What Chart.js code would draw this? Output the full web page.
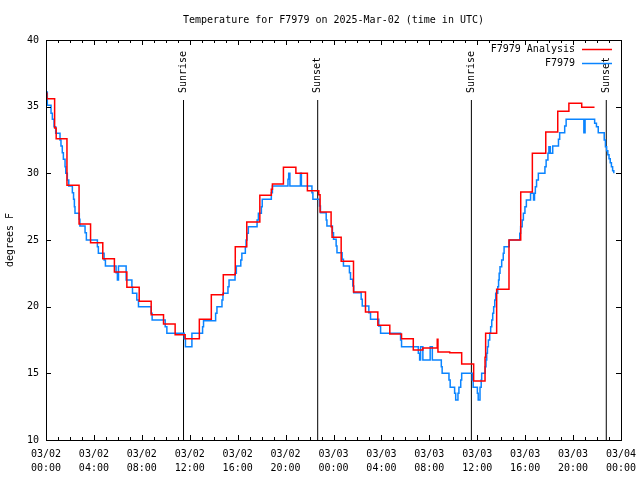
<!DOCTYPE html>
<html>
<head>
<meta charset="utf-8">
<script src="https://cdn.jsdelivr.net/npm/chart.js@4"></script>
<style>html,body{margin:0;padding:0;background:#fff;}canvas{display:block;}</style>
</head>
<body>
<canvas id="c" width="640" height="480"></canvas>
<script>
// ---- data (hours since 03/02 00:00 UTC, degrees F) ----
const xTickLabels = ['03/02 00:00','03/02 04:00','03/02 08:00','03/02 12:00','03/02 16:00','03/02 20:00',
  '03/03 00:00','03/03 04:00','03/03 08:00','03/03 12:00','03/03 16:00','03/03 20:00','03/04 00:00'];
const yTickValues = [10, 15, 20, 25, 30, 35, 40];

const analysisHours = [0.00,0.08,0.72,0.85,1.75,2.76,3.72,4.74,5.71,6.75,7.78,8.78,9.81,10.78,11.62,12.80,13.80,14.80,15.80,
  16.76,17.85,18.81,18.90,19.82,20.86,21.82,22.77,22.88,23.80,23.88,24.64,25.67,26.67,27.70,28.70,29.68,30.66,31.46,
  32.66,32.72,33.70,34.70,35.70,36.65,36.70,37.62,38.65,39.63,40.60,41.72,42.72,43.65,44.72,45.79];
const analysisTemps = [36.0,35.6,33.4,32.6,29.1,26.2,24.8,23.6,22.6,21.45,20.4,19.4,18.7,17.9,17.6,19.05,20.9,22.4,24.5,
  26.35,28.35,28.8,29.2,30.45,30.0,28.7,28.4,27.1,26.0,25.2,23.4,21.1,19.6,18.6,17.95,17.6,16.75,16.9,
  17.55,16.6,16.55,15.7,14.43,16.2,18.0,21.3,25.0,28.6,31.5,33.1,34.65,35.25,34.95,34.95];

const obsHours = [0.00,0.11,0.42,0.53,0.67,0.81,1.17,1.25,1.36,1.45,1.59,1.65,1.78,1.90,2.20,2.30,2.37,2.42,2.78,2.83,
  3.26,3.37,4.29,4.37,4.85,4.96,5.85,5.96,6.05,6.69,7.17,7.22,7.58,7.72,8.78,8.86,9.95,10.09,11.54,11.64,
  12.18,13.07,13.15,14.16,14.27,14.69,14.77,15.19,15.28,15.78,15.89,16.26,16.35,16.64,16.70,16.78,16.89,17.62,17.73,17.98,
  18.05,18.81,18.90,20.20,20.26,20.36,21.24,21.32,22.20,22.28,22.83,22.91,23.39,23.45,23.91,24.00,24.22,24.29,24.72,24.83,
  25.33,25.42,25.61,25.69,26.31,26.40,26.95,27.09,27.78,27.93,29.60,29.68,31.08,31.19,31.27,31.46,32.07,32.25,33.00,33.07,
  33.64,33.74,34.11,34.20,34.39,34.47,34.62,34.70,35.59,35.66,36.01,36.08,36.23,36.33,36.37,36.66,36.73,36.79,36.85,36.93,
  37.04,37.12,37.21,37.29,37.37,37.46,37.54,37.71,37.78,37.83,37.90,38.04,38.17,38.24,38.67,39.55,39.62,39.75,39.85,39.98,
  40.10,40.45,40.70,40.78,40.85,40.95,41.10,41.65,41.75,41.90,41.98,42.10,42.30,42.78,42.88,43.30,43.42,44.90,45.00,45.80,
  45.95,46.10,46.60,46.70,46.80,46.90,47.00,47.10,47.20,47.30,47.40];
const obsTemps = [36.1,35.1,34.5,34.05,33.5,33.0,32.5,32.05,31.55,31.05,30.5,30.0,29.5,29.05,28.55,28.05,27.5,27.0,26.55,26.05,
  25.55,25.0,24.5,24.0,23.5,23.05,22.55,22.0,23.05,22.0,21.45,21.0,20.5,20.0,19.5,19.0,18.5,18.0,17.6,17.0,
  18.0,18.5,18.95,19.5,20.0,20.5,21.0,21.5,22.0,22.5,23.05,23.5,24.0,24.5,25.0,25.5,26.0,26.5,27.0,27.5,
  28.05,28.55,29.05,29.55,30.0,29.05,30.0,29.05,28.55,28.05,27.55,27.05,26.5,26.05,25.55,25.05,24.55,24.05,23.55,23.05,
  22.55,22.05,21.55,21.05,20.55,20.05,19.55,19.05,18.55,18.0,17.5,17.0,16.5,16.0,17.0,16.0,17.0,16.0,15.5,15.0,
  14.5,13.95,13.5,13.0,13.5,13.95,14.5,15.0,14.5,13.95,13.5,13.0,13.95,14.5,15.0,15.5,16.0,16.5,17.0,17.5,
  18.0,18.5,19.0,19.5,20.0,20.5,21.0,21.5,22.0,22.5,23.0,23.5,24.0,24.5,25.0,25.5,26.0,26.5,27.0,27.5,
  28.0,28.5,28.0,28.5,29.0,29.5,30.0,30.5,31.0,31.5,32.0,31.5,32.05,32.55,33.05,33.55,34.05,33.05,34.05,33.75,
  33.5,33.05,32.5,32.0,31.7,31.4,31.1,30.8,30.5,30.2,30.0];

const sunHours = [11.48, 22.68, 35.51, 46.77];
const sunLabels = ['Sunrise', 'Sunset', 'Sunrise', 'Sunset'];
const sunLineRange = [10, 35.5];

const seriesNames = ['F7979 Analysis', 'F7979'];
const seriesColors = ['#ff0000', '#0a84ff'];
const titleText = 'Temperature for F7979 on 2025-Mar-02 (time in UTC)';
const yAxisTitle = 'degrees F';

// ---- build ----
const FONT = "'DejaVu Sans Mono', monospace";
const toPts = (xs, ys) => xs.map((x, i) => ({x: x, y: ys[i]}));

const datasets = [
  {label: seriesNames[0], data: toPts(analysisHours, analysisTemps), borderColor: seriesColors[0],
   borderWidth: 1.5, stepped: true, pointRadius: 0, fill: false},
  {label: seriesNames[1], data: toPts(obsHours, obsTemps), borderColor: seriesColors[1],
   borderWidth: 1.5, stepped: true, pointRadius: 0, fill: false}
];
sunHours.forEach((h) => {
  datasets.push({label: '', data: [{x: h, y: sunLineRange[0]}, {x: h, y: sunLineRange[1]}],
    borderColor: '#000', borderWidth: 1, pointRadius: 0, fill: false});
});

const framePlugin = {
  id: 'frame',
  beforeDraw(chart) {
    const ctx = chart.ctx;
    ctx.save(); ctx.fillStyle = '#fff'; ctx.fillRect(0, 0, chart.width, chart.height); ctx.restore();
  },
  afterDraw(chart) {
    const ctx = chart.ctx;
    const {left, right, top, bottom} = chart.chartArea;
    const xs = chart.scales.x, ys = chart.scales.y;
    ctx.save();
    ctx.strokeStyle = '#000'; ctx.lineWidth = 1;
    ctx.strokeRect(Math.round(left) + 0.5, Math.round(top) + 0.5, Math.round(right - left), Math.round(bottom - top));
    ctx.beginPath();
    for (let h = 0; h <= 48; h++) {
      const px = Math.round(xs.getPixelForValue(h)) + 0.5;
      const len = (h % 4 === 0) ? 5 : 3;
      ctx.moveTo(px, bottom); ctx.lineTo(px, bottom - len);
      ctx.moveTo(px, top); ctx.lineTo(px, top + len);
    }
    yTickValues.forEach((v) => {
      const py = Math.round(ys.getPixelForValue(v)) + 0.5;
      ctx.moveTo(left, py); ctx.lineTo(left + 5, py);
      ctx.moveTo(right, py); ctx.lineTo(right - 5, py);
    });
    ctx.stroke();

    // sunrise / sunset labels
    ctx.fillStyle = '#000';
    ctx.font = '10px ' + FONT;
    ctx.textBaseline = 'middle';
    ctx.textAlign = 'left';
    sunHours.forEach((h, i) => {
      const px = xs.getPixelForValue(h);
      const py = ys.getPixelForValue(sunLineRange[1]) - 7;
      ctx.save();
      ctx.translate(px, py);
      ctx.rotate(-Math.PI / 2);
      ctx.fillText(sunLabels[i], 0, 0);
      ctx.restore();
    });

    // legend
    ctx.textAlign = 'right';
    const ly = [49.5, 63.5];
    seriesNames.forEach((name, i) => {
      ctx.fillStyle = '#000';
      ctx.fillText(name, 575, ly[i]);
      ctx.strokeStyle = seriesColors[i];
      ctx.lineWidth = 1.5;
      ctx.beginPath(); ctx.moveTo(582, ly[i]); ctx.lineTo(612, ly[i]); ctx.stroke();
    });
    ctx.restore();
  }
};

new Chart(document.getElementById('c'), {
  type: 'line',
  data: {datasets: datasets},
  options: {
    responsive: false,
    animation: false,
    devicePixelRatio: 1,
    layout: {padding: {left: 0, right: 19, top: 0, bottom: 0}},
    plugins: {
      legend: {display: false},
      tooltip: {enabled: false},
      title: {display: true, text: titleText, color: '#000', fullSize: false,
        font: {family: FONT, size: 10, weight: 'normal', lineHeight: 1.2},
        padding: {top: 14, bottom: 14}}
    },
    scales: {
      x: {
        type: 'linear', min: 0, max: 48,
        grid: {display: false, drawTicks: false},
        border: {display: false},
        afterFit: (s) => { s.height = 40; s.paddingLeft = 0; s.paddingRight = 0; },
        ticks: {
          stepSize: 4, autoSkip: false, maxRotation: 0, minRotation: 0, padding: 7, color: '#000',
          font: {family: FONT, size: 10, lineHeight: 1.4},
          callback: (v) => { const i = Math.round(v / 4); return xTickLabels[i] ? xTickLabels[i].split(' ') : ''; }
        }
      },
      y: {
        type: 'linear', min: 10, max: 40,
        grid: {display: false, drawTicks: false},
        border: {display: false},
        afterFit: (s) => { s.width = 46; },
        title: {display: true, text: yAxisTitle, color: '#000',
          font: {family: FONT, size: 10, lineHeight: 1.2}, padding: {top: 4, bottom: 0}},
        ticks: {stepSize: 5, padding: 7, color: '#000', font: {family: FONT, size: 10}}
      }
    }
  },
  plugins: [framePlugin]
});
</script>
</body>
</html>
